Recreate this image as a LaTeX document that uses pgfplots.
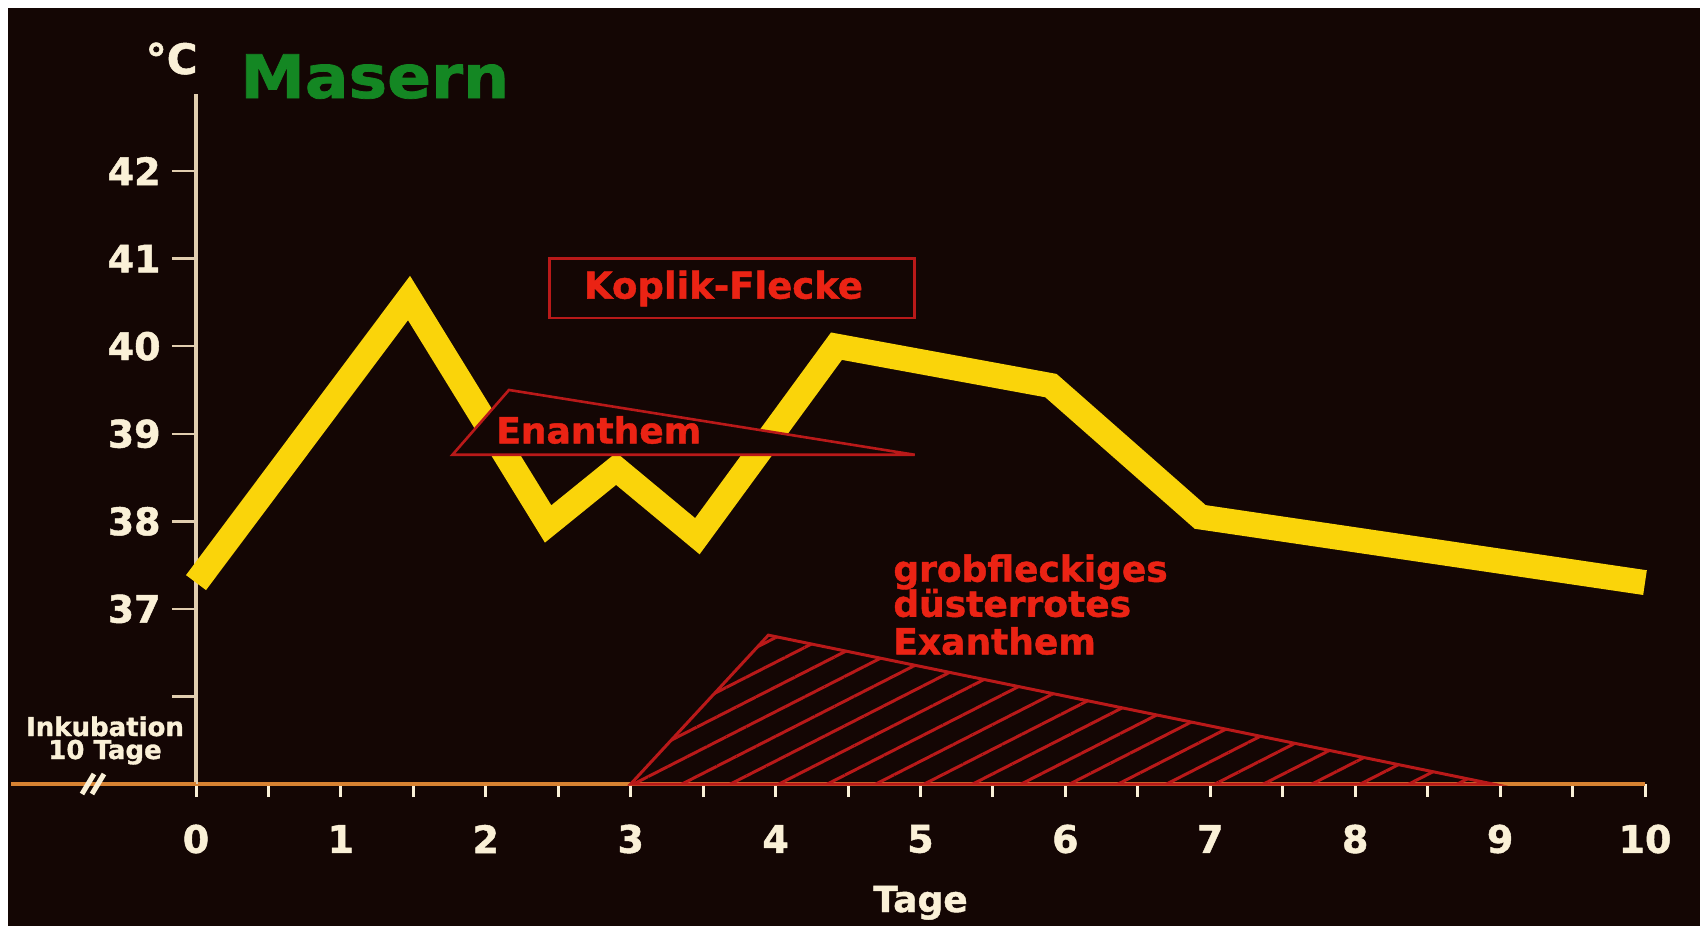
\documentclass[border=0pt]{standalone}
\usepackage{pgfplots}
\pgfplotsset{compat=1.18}
\usepackage{graphicx}
\usepackage{fontspec}
\setmainfont{DejaVu Sans}[BoldFeatures={FakeBold=1.2}]
\usetikzlibrary{patterns.meta}
\definecolor{bg}{RGB}{20,6,4}
\definecolor{curve}{RGB}{250,212,10}
\definecolor{redtxt}{RGB}{235,35,20}
\definecolor{redline}{RGB}{185,25,25}
\definecolor{mgreen}{RGB}{20,135,35}
\definecolor{cream}{RGB}{250,240,215}
\definecolor{yaxis}{RGB}{225,205,175}
\definecolor{xaxis}{RGB}{215,130,50}
\begin{document}
\begin{tikzpicture}
\useasboundingbox (-98pt,-75pt) rectangle (756pt,392pt);
\fill[white] (-98pt,-75pt) rectangle (756pt,392pt);
\fill[bg] (-94pt,-71pt) rectangle (752pt,388pt);
\begin{axis}[
  scale only axis, width=724.5pt, height=345pt,
  at={(0,0)}, anchor=south west,
  xmin=0, xmax=10, ymin=35, ymax=42.88,
  axis lines*=left,
  x axis line style={xaxis, line width=2pt},
  y axis line style={yaxis, line width=2pt},
  tick align=outside,
  xtick={0,1,2,3,4,5,6,7,8,9,10},
  xticklabels={0,1,2,3,4,5,6,7,8,9,10},
  ytick={36,37,38,39,40,41,42},
  yticklabels={{},37,38,39,40,41,42},
  minor xtick={0,0.5,1,1.5,2,2.5,3,3.5,4,4.5,5,5.5,6,6.5,7,7.5,8,8.5,9,9.5,10},
  major tick length=12pt, minor tick length=6.5pt,
  major x tick style={draw=none},
  minor x tick style={draw=cream, line width=1.5pt},
  major y tick style={draw=yaxis, line width=1.2pt},
  xticklabel style={anchor=center, yshift=-15.5pt, inner sep=0pt, font=\fontsize{19}{19}\selectfont\bfseries, text=cream},
  yticklabel style={anchor=east, inner sep=0pt, xshift=-5.5pt, font=\fontsize{19}{19}\selectfont\bfseries, text=cream},
  clip=false,
]
% grobfleckiges duesterrotes Exanthem (hatched)
\addplot[draw=redline, line width=1.5pt, pattern={Lines[angle=27,distance=11pt,line width=1.5pt]}, pattern color=redline]
  coordinates {(3,35) (3.95,36.7) (8.95,35)} -- cycle;
% temperature curve
\addplot[curve, line width=12.5pt, line join=miter, miter limit=10, line cap=butt]
  coordinates {(0,37.3) (1.47,40.55) (2.43,37.97) (2.9,38.6) (3.46,37.83) (4.42,40.0) (5.9,39.55) (6.93,38.05) (10,37.3)};
% Enanthem
\addplot[draw=redline, line width=1.3pt, fill=bg]
  coordinates {(1.77,38.76) (2.16,39.5) (4.96,38.76)} -- cycle;
\draw[redline, line width=1.3pt] (axis cs:2.44,40.32) rectangle (axis cs:4.96,41.0);
\node[text=redtxt, inner sep=0pt, font=\fontsize{18.5}{18.5}\selectfont\bfseries] at (axis cs:3.64,40.66) {Koplik-Flecke};
\node[anchor=base west, inner sep=0pt, text=redtxt, font=\fontsize{18}{18}\selectfont\bfseries] at (axis cs:2.07,38.89) {Enanthem};
\node[anchor=base west, inner sep=0pt, text=redtxt, font=\fontsize{18}{18}\selectfont\bfseries] at (axis cs:4.81,37.31) {grobfleckiges};
\node[anchor=base west, inner sep=0pt, text=redtxt, font=\fontsize{18}{18}\selectfont\bfseries] at (axis cs:4.81,36.91) {düsterrotes};
\node[anchor=base west, inner sep=0pt, text=redtxt, font=\fontsize{18}{18}\selectfont\bfseries] at (axis cs:4.81,36.48) {Exanthem};
\end{axis}
% extension of x axis and break mark
\draw[xaxis, line width=2pt] (-92.5pt,0) -- (0,0);
\draw[cream, line width=2.5pt] (-57pt,-5pt) -- (-51pt,5pt);
\draw[cream, line width=2.5pt] (-52pt,-5pt) -- (-46pt,5pt);
\node[anchor=base, inner sep=0pt, text=cream, font=\fontsize{13}{13}\selectfont\bfseries] at (-45.5pt,24pt) {Inkubation};
\node[anchor=base, inner sep=0pt, text=cream, font=\fontsize{13}{13}\selectfont\bfseries] at (-45.5pt,12.5pt) {10 Tage};
\node[anchor=base east, inner sep=0pt, text=cream, font=\fontsize{21}{21}\selectfont\bfseries] at (1pt,355pt) {°C};
\node[anchor=base west, inner sep=0pt, text=mgreen, font=\fontsize{30}{30}\selectfont\bfseries] at (22pt,343pt) {\scalebox{1.08}[1]{Masern}};
\node[anchor=base, inner sep=0pt, text=cream, font=\fontsize{18}{18}\selectfont\bfseries] at (362.25pt,-64pt) {Tage};
\end{tikzpicture}
\end{document}
